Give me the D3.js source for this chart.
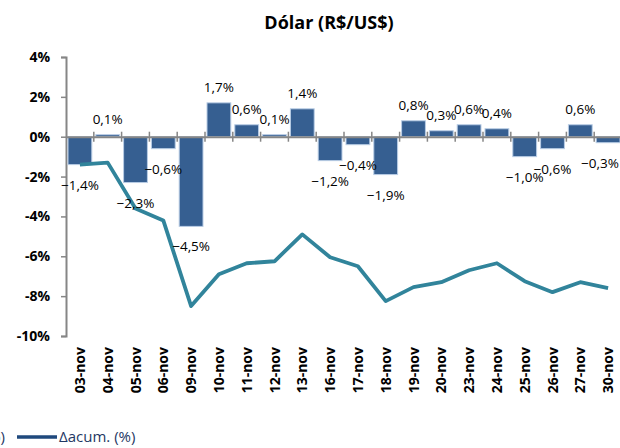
<!DOCTYPE html>
<html>
<head>
<meta charset="utf-8">
<script src="https://cdn.jsdelivr.net/npm/d3@7"></script>
<style>
	body { margin: 0; background: #fff; }
	svg { display: block; font-family: "Open Sans", sans-serif; }
</style>
</head>
<body>
<div id="chart-area"></div>
<script>
// data
const dates = ["03-nov", "04-nov", "05-nov", "06-nov", "09-nov", "10-nov", "11-nov", "12-nov", "13-nov", "16-nov",
	"17-nov", "18-nov", "19-nov", "20-nov", "23-nov", "24-nov", "25-nov", "26-nov", "27-nov", "30-nov"];
const daily = [-1.4, 0.1, -2.3, -0.6, -4.5, 1.7, 0.6, 0.1, 1.4, -1.2,
	-0.4, -1.9, 0.8, 0.3, 0.6, 0.4, -1.0, -0.6, 0.6, -0.3];
const accum = [-1.4, -1.3, -3.6, -4.2, -8.5, -6.9, -6.35, -6.25, -4.9, -6.05,
	-6.5, -8.25, -7.55, -7.3, -6.7, -6.35, -7.25, -7.8, -7.3, -7.6];
const yTicks = [4, 2, 0, -2, -4, -6, -8, -10];

const W = 620, H = 448;
const fmt = v => d3.format(".1f")(v).replace(".", ",") + "%";

const svg = d3.select("#chart-area").append("svg")
	.attr("width", W)
	.attr("height", H);

const x = d3.scaleBand().domain(dates).range([66, 622]).padding(0);
const y = d3.scaleLinear().domain([-10, 4]).range([336, 57]);

// title
svg.append("text")
	.attr("x", 329)
	.attr("y", 29)
	.attr("text-anchor", "middle")
	.attr("font-size", "18px")
	.attr("font-weight", "bold")
	.text("Dólar (R$/US$)");

// y axis
const yAxis = svg.append("g")
	.attr("transform", "translate(66,0)")
	.call(d3.axisLeft(y).tickValues(yTicks).tickSize(5).tickPadding(11).tickFormat(d => d + "%"));
yAxis.select(".domain").attr("stroke", "#868686").attr("stroke-width", 2);
yAxis.selectAll(".tick line").attr("stroke", "#868686").attr("stroke-width", 1.5);
yAxis.selectAll("text")
	.attr("font-size", "14px")
	.attr("font-weight", "bold")
	.attr("font-family", "Open Sans")
	.attr("fill", "#000");

// bars
svg.selectAll("rect.bar").data(daily)
	.enter().append("rect")
	.attr("class", "bar")
	.attr("x", (d, i) => x(dates[i]) + 2)
	.attr("width", x.bandwidth() - 4)
	.attr("y", d => y(Math.max(0, d)))
	.attr("height", d => Math.abs(y(d) - y(0)))
	.attr("fill", "#365F91")
	.attr("stroke", "#b9cde5")
	.attr("stroke-width", 1);

// zero line with crossing ticks
const xAxis = svg.append("g")
	.attr("transform", `translate(0,${y(0)})`)
	.call(d3.axisBottom(x).tickSize(0).tickFormat(""));
xAxis.select(".domain").attr("stroke", "#868686").attr("stroke-width", 2);
svg.append("g").selectAll("line").data(dates.slice(1).concat(["end"]))
	.enter().append("line")
	.attr("x1", (d, i) => 66 + (i + 1) * x.bandwidth())
	.attr("x2", (d, i) => 66 + (i + 1) * x.bandwidth())
	.attr("y1", y(0) - 5)
	.attr("y2", y(0) + 5)
	.attr("stroke", "#868686")
	.attr("stroke-width", 1.5);

// category labels
svg.append("g").selectAll("text").data(dates)
	.enter().append("text")
	.attr("transform", d => `translate(${x(d) + x.bandwidth() / 2 + 5},347) rotate(-90)`)
	.attr("text-anchor", "end")
	.attr("font-size", "14px")
	.attr("font-weight", "bold")
	.text(d => d);

// accumulated line
const line = d3.line()
	.x((d, i) => x(dates[i]) + x.bandwidth() / 2)
	.y(d => y(d));
svg.append("path")
	.datum(accum)
	.attr("d", line)
	.attr("fill", "none")
	.attr("stroke", "#31849B")
	.attr("stroke-width", 3.8)
	.attr("stroke-linejoin", "round");

// bar labels (kept inside the page at the right edge)
svg.append("g").selectAll("text").data(daily)
	.enter().append("text")
	.attr("x", (d, i) => Math.min(x(dates[i]) + x.bandwidth() / 2, W - 20))
	.attr("y", d => d >= 0 ? y(d) - 11 : y(d) + 25)
	.attr("text-anchor", "middle")
	.attr("font-size", "13.5px")
	.attr("fill", "#000")
	.text(d => fmt(d));

// legend
const legend = svg.append("g").attr("font-size", "15px").attr("fill", "#1F3864");
legend.append("text")
	.attr("x", 5)
	.attr("y", 442)
	.attr("text-anchor", "end")
	.text("Δ diária (%)");
legend.append("line")
	.attr("x1", 17).attr("x2", 57)
	.attr("y1", 437).attr("y2", 437)
	.attr("stroke", "#1F497D")
	.attr("stroke-width", 3.5);
legend.append("text")
	.attr("x", 59)
	.attr("y", 442)
	.text("Δacum. (%)");
</script>
</body>
</html>
